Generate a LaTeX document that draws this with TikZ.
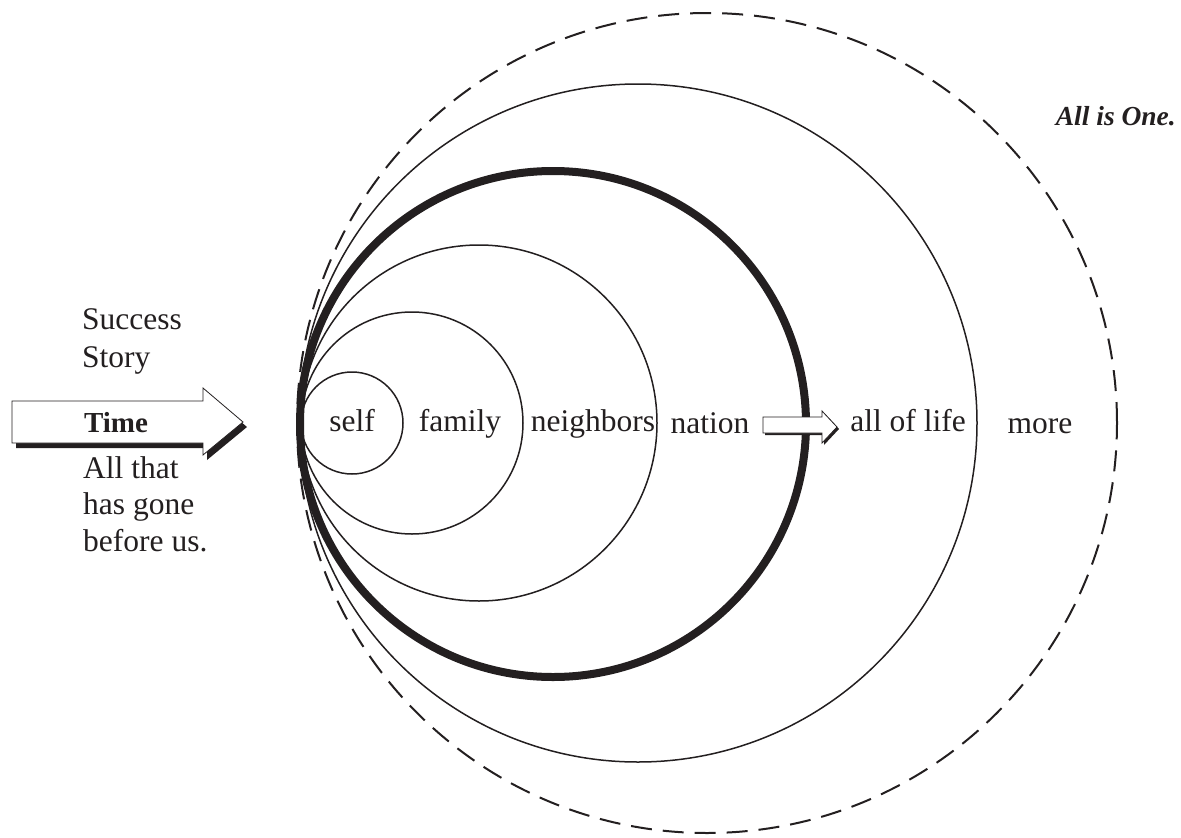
\documentclass[tikz,border=0pt]{standalone}
\usepackage{fontspec}
\setmainfont{Liberation Serif}
\definecolor{ink}{HTML}{231F20}
\begin{document}
\begin{tikzpicture}[x=1pt,y=-1pt,
  ring/.style={circle,draw=ink,line width=1.5pt,inner sep=0pt,outer sep=0pt},
  lbl/.style={text=ink,inner sep=0pt,anchor=base,font=\fontsize{31.5}{38}\selectfont},
  side/.style={lbl,anchor=base west},
  arrowbody/.style={fill=white,draw=ink,line width=0.8pt,line join=miter},
  arrowshadow/.style={fill=ink,draw=none}]
\useasboundingbox (0,0) rectangle (1181,838);

% nested circles, all touching at the left
\node[ring,dash pattern=on 21pt off 11pt,line width=2pt,minimum size=820pt] (more) at (707,423) {};
\node[ring,minimum size=678pt] (life) at (638,423) {};
\node[ring,line width=8pt,minimum size=506pt] (nation) at (553,424) {};
\node[ring,minimum size=356pt] (neigh) at (479,423) {};
\node[ring,minimum size=222pt] (family) at (412,423) {};
\node[ring,minimum size=102pt] (self) at (352,423) {};

% ring labels
\node[lbl] (tself) at (352,431) {self};
\node[lbl] (tfamily) at (460,431) {family};
\node[lbl] (tneigh) at (593,431) {neighbors};
\node[lbl] (tnation) at (710,433) {nation};
\node[lbl] (tlife) at (908,431) {all of life};
\node[lbl] (tmore) at (1040,433) {more};
\node[text=ink,inner sep=0pt,anchor=base east,font=\fontsize{27.5}{32}\selectfont\bfseries\itshape] (one) at (1176,125) {All is One.};

% Time arrow with its shadow
\fill[arrowshadow,shift={(4,5)}] (12,401) -- (203,401) -- (203,388) -- (243,422) -- (203,455) -- (203,443) -- (12,443) -- cycle;
\draw[arrowbody] (12,401) -- (203,401) -- (203,388) -- (243,422) -- (203,455) -- (203,443) -- (12,443) -- cycle;
\node[lbl,font=\fontsize{29}{34}\selectfont\bfseries] (time) at (116,432) {Time};

% small arrow across the nation ring
\fill[arrowshadow,shift={(2,2)}] (763,417) -- (822,417) -- (822,411) -- (837,427) -- (822,443) -- (822,433) -- (763,433) -- cycle;
\draw[arrowbody] (763,417) -- (822,417) -- (822,411) -- (837,427) -- (822,443) -- (822,433) -- (763,433) -- cycle;

% side captions
\node[side] (s1) at (82,329) {Success};
\node[side] (s2) at (82,367) {Story};
\node[side] (a1) at (83,478) {All that};
\node[side] (a2) at (83,514) {has gone};
\node[side] (a3) at (83,551) {before us.};
\end{tikzpicture}
\end{document}
